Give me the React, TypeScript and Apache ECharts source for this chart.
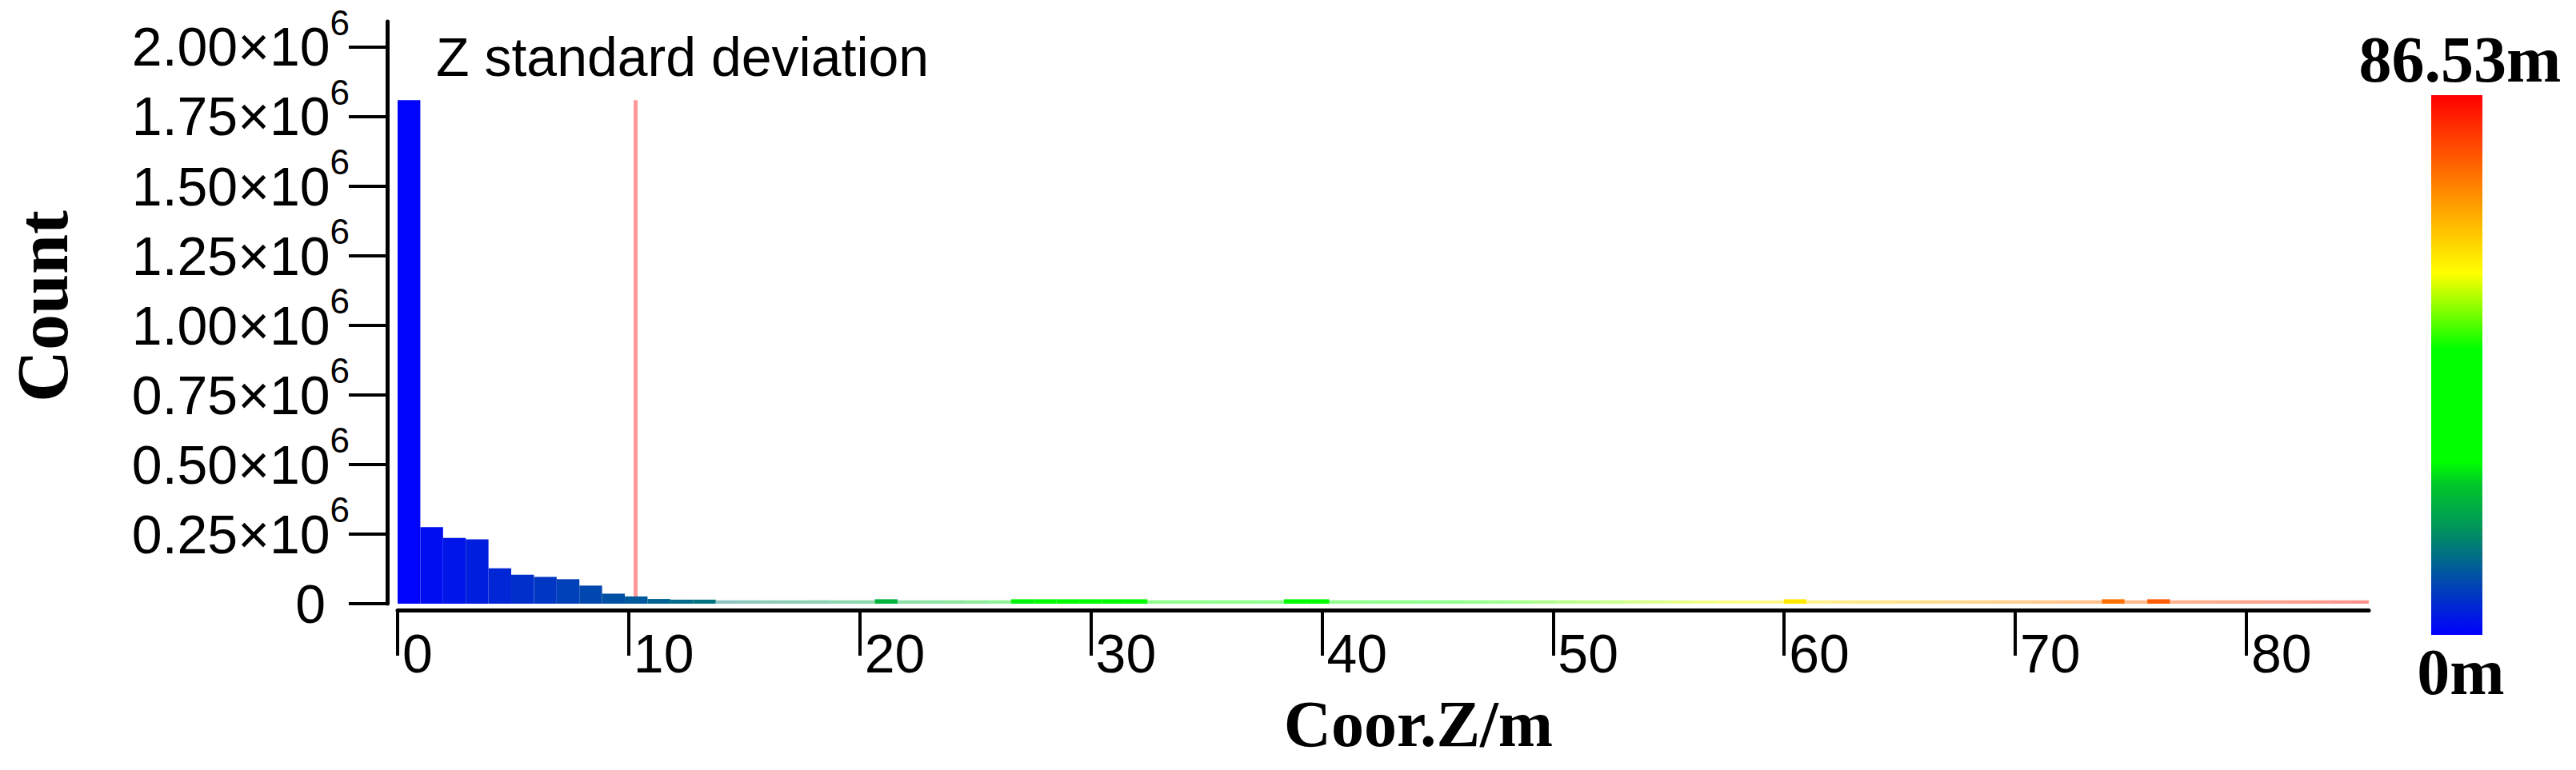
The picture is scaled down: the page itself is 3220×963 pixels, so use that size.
import React, { useEffect, useRef } from 'react';
import * as echarts from 'echarts';

// ---- data ----
const Z_MAX = 86.53; // colour-bar top value (m)
const BIN_COUNT_TOTAL = 88; // histogram bins over 0..Z_MAX
const BIN_WIDTH = Z_MAX / BIN_COUNT_TOTAL;
const X_MAX = 85.3;
const Y_MAX = 2.09e6;
const STD_DEV_Z = 10.3;
const STD_LINE_TOP = 1808000;

const BIN_COUNTS: number[] = [
  1808000, 275000, 236000, 231000, 127000, 104000, 96000, 88000, 65000, 36000,
  26000, 17000, 14500, 14500, 12000, 12000, 12000, 12000, 12000, 12000,
  12000, 16000, 12000, 12000, 12000, 12000, 12000, 16000, 16000, 16000,
  16000, 16000, 16000, 12000, 12000, 12000, 12000, 12000, 12000, 16000,
  16000, 12000, 12000, 12000, 12000, 12000, 12000, 12000, 12000, 12000,
  12000, 12000, 12000, 12000, 12000, 12000, 12000, 12000, 12000, 12000,
  12000, 16000, 12000, 12000, 12000, 12000, 12000, 12000, 12000, 12000,
  12000, 12000, 12000, 12000, 12000, 16000, 12000, 16000, 12000, 12000,
  12000, 12000, 12000, 12000, 12000, 12000, 12000,
];

const X_TICKS = [0, 10, 20, 30, 40, 50, 60, 70, 80];
const Y_TICKS = [0, 250000, 500000, 750000, 1000000, 1250000, 1500000, 1750000, 2000000];

const COLOR_STOPS: [number, string][] = [
  [0, '#0000ff'],
  [0.2, '#00965a'],
  [0.28, '#00c828'],
  [0.32, '#00ff00'],
  [0.53, '#00ff00'],
  [0.67, '#ffff00'],
  [1, '#ff0000'],
];

const TITLE_TEXT = 'Z standard deviation';
const X_NAME = 'Coor.Z/m';
const Y_NAME = 'Count';
const CB_TOP_LABEL = '86.53m';
const CB_BOTTOM_LABEL = '0m';

// ---- helpers ----
function hexToRgb(h: string): number[] {
  const n = parseInt(h.slice(1), 16);
  return [(n >> 16) & 255, (n >> 8) & 255, n & 255];
}
function colorAt(t: number): string {
  const tt = Math.max(0, Math.min(1, t));
  for (let i = 1; i < COLOR_STOPS.length; i++) {
    const [t1, c1] = COLOR_STOPS[i];
    if (tt <= t1) {
      const [t0, c0] = COLOR_STOPS[i - 1];
      const f = t1 - t0 > 0 ? (tt - t0) / (t1 - t0) : 0;
      const a = hexToRgb(c0);
      const b = hexToRgb(c1);
      const r = a.map((v, k) => Math.round(v + (b[k] - v) * f));
      return `rgb(${r[0]},${r[1]},${r[2]})`;
    }
  }
  return COLOR_STOPS[COLOR_STOPS.length - 1][1];
}

const SANS = '"Liberation Sans", Arial, sans-serif';
const SERIF = '"Liberation Serif", "Times New Roman", serif';

export default function App() {
  const ref = useRef<HTMLDivElement>(null);

  useEffect(() => {
    if (!ref.current) return;
    const chart = echarts.init(ref.current, undefined, { renderer: 'svg' });

    const histData = BIN_COUNTS.map((c, i) => [i * BIN_WIDTH, (i + 1) * BIN_WIDTH, c]);

    const option: any = {
      animation: false,
      backgroundColor: '#ffffff',
      grid: {
        left: 497,
        top: 27,
        width: 2464,
        height: 728,
        containLabel: false,
        outerBoundsMode: 'none',
      },
      xAxis: {
        type: 'value',
        min: 0,
        max: X_MAX,
        offset: 8,
        splitLine: { show: false },
        axisLine: { show: true, onZero: false, lineStyle: { color: '#000', width: 5 } },
        axisTick: {
          show: true,
          length: 57,
          customValues: X_TICKS,
          lineStyle: { color: '#000', width: 4 },
        },
        axisLabel: {
          customValues: X_TICKS,
          showMinLabel: true,
          showMaxLabel: true,
          margin: 20,
          align: 'left',
          padding: [0, 0, 0, 6],
          fontSize: 68,
          lineHeight: 68,
          fontFamily: SANS,
          color: '#000',
        },
      },
      yAxis: {
        type: 'value',
        min: 0,
        max: Y_MAX,
        offset: 13,
        splitLine: { show: false },
        axisLine: { show: true, onZero: false, lineStyle: { color: '#000', width: 5 } },
        axisTick: {
          show: true,
          length: 48,
          customValues: Y_TICKS,
          lineStyle: { color: '#000', width: 4 },
        },
        axisLabel: {
          customValues: Y_TICKS,
          showMinLabel: true,
          showMaxLabel: true,
          hideOverlap: false,
          margin: 47,
          color: '#000',
          formatter: (v: number) => {
            if (v === 0) return '{z|0}';
            return `{a|${(v / 1e6).toFixed(2)}×10}{b|6}`;
          },
          rich: {
            a: { fontSize: 68, lineHeight: 68, fontFamily: SANS, color: '#000' },
            b: { fontSize: 44, lineHeight: 44, fontFamily: SANS, color: '#000', padding: [-30, 0, 30, 0] },
            z: { fontSize: 68, lineHeight: 68, fontFamily: SANS, color: '#000', padding: [0, 30, 0, 0] },
          },
        },
      },
      series: [
        {
          type: 'line',
          z: 1,
          silent: true,
          symbol: 'none',
          data: [
            [STD_DEV_Z, 0],
            [STD_DEV_Z, STD_LINE_TOP],
          ],
          lineStyle: { color: '#ff9999', width: 5 },
        },
        {
          type: 'custom',
          z: 2,
          clip: true,
          silent: true,
          data: histData,
          encode: { x: [0, 1], y: 2 },
          renderItem: (params: any, api: any) => {
            const x0 = api.value(0);
            const x1 = api.value(1);
            const c = api.value(2);
            const p0 = api.coord([x0, 0]);
            const p1 = api.coord([x1, c]);
            const t = (x0 + x1) / 2 / Z_MAX;
            return {
              type: 'rect',
              shape: { x: p0[0], y: p1[1], width: p1[0] - p0[0], height: p0[1] - p1[1] },
              style: { fill: colorAt(t), opacity: c >= 13000 ? 1 : 0.45 },
            };
          },
        },
      ],
      graphic: {
        elements: [
          {
            type: 'text',
            x: 545,
            y: 71,
            style: {
              text: TITLE_TEXT,
              font: `68px ${SANS}`,
              fill: '#000',
              textAlign: 'left',
              textVerticalAlign: 'middle',
            },
          },
          {
            type: 'text',
            x: 53,
            y: 383,
            rotation: Math.PI / 2,
            style: {
              text: Y_NAME,
              font: `bold 90px ${SERIF}`,
              fill: '#000',
              textAlign: 'center',
              textVerticalAlign: 'middle',
            },
          },
          {
            type: 'text',
            x: 1773,
            y: 905,
            style: {
              text: X_NAME,
              font: `bold 82px ${SERIF}`,
              fill: '#000',
              textAlign: 'center',
              textVerticalAlign: 'middle',
            },
          },
          {
            type: 'rect',
            shape: { x: 3039, y: 119, width: 64, height: 675 },
            style: {
              fill: new echarts.graphic.LinearGradient(
                0,
                1,
                0,
                0,
                COLOR_STOPS.map(([o, c]) => ({ offset: o, color: c }))
              ),
            },
          },
          {
            type: 'text',
            x: 3075,
            y: 74,
            style: {
              text: CB_TOP_LABEL,
              font: `bold 82px ${SERIF}`,
              fill: '#000',
              textAlign: 'center',
              textVerticalAlign: 'middle',
            },
          },
          {
            type: 'text',
            x: 3076,
            y: 840,
            style: {
              text: CB_BOTTOM_LABEL,
              font: `bold 82px ${SERIF}`,
              fill: '#000',
              textAlign: 'center',
              textVerticalAlign: 'middle',
            },
          },
        ],
      },
    };

    chart.setOption(option);
    return () => {
      chart.dispose();
    };
  }, []);

  return (
    <div
      ref={ref}
      style={{ position: 'absolute', left: 0, top: 0, width: 3220, height: 963, background: '#fff' }}
    />
  );
}
